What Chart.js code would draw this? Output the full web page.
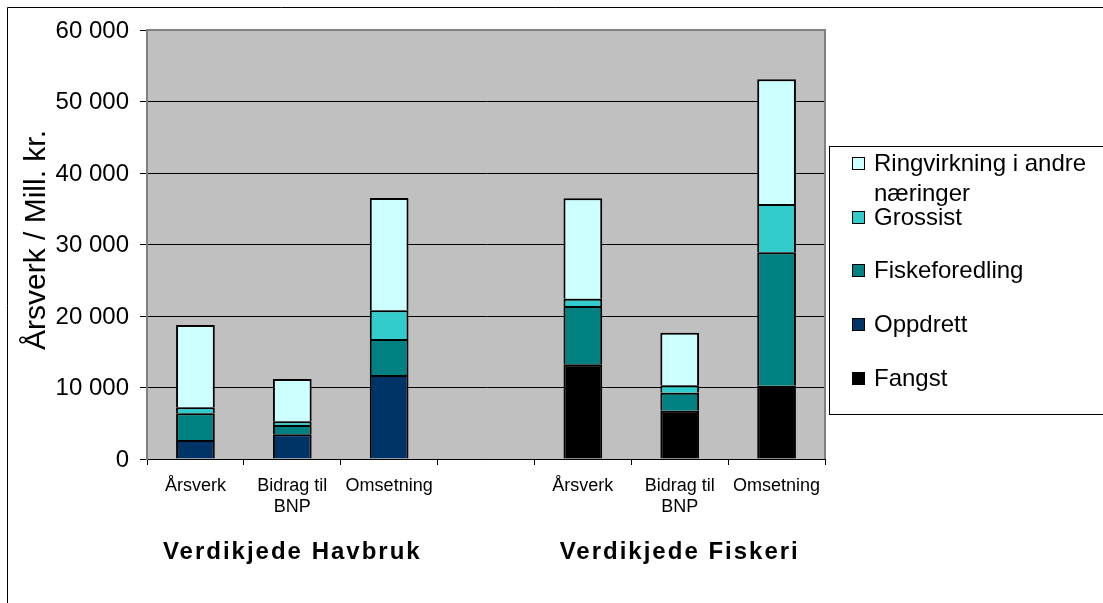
<!DOCTYPE html>
<html>
<head>
<meta charset="utf-8">
<script src="https://cdn.jsdelivr.net/npm/chart.js@4"></script>
<style>
  body { margin: 0; background: #fff; }
  canvas { display: block; }
</style>
</head>
<body>
<canvas id="chart" width="1103" height="603"></canvas>
<script>
// categories (empty slot between the two value chains)
const categories = [['Årsverk'], ['Bidrag til', 'BNP'], ['Omsetning'], [''], ['Årsverk'], ['Bidrag til', 'BNP'], ['Omsetning']];
const groupLabels = ['Verdikjede Havbruk', 'Verdikjede Fiskeri'];
const yTicks = [0, 10000, 20000, 30000, 40000, 50000, 60000];
const yTitle = 'Årsverk / Mill. kr.';

// stacked segments, bottom to top
const fangst         = [0, 0, 0, null, 13250, 6750, 10250];
const oppdrett       = [2650, 3450, 11750, null, 0, 0, 0];
const fiskeforedling = [3750, 1300, 5050, null, 8150, 2500, 18650];
const grossist       = [840, 520, 4020, null, 1020, 1080, 6760];
const ringvirkning   = [11510, 5930, 15700, null, 14040, 7310, 17440];

const seriesNames = ['Fangst', 'Oppdrett', 'Fiskeforedling', 'Grossist', 'Ringvirkning i andre næringer'];
const seriesColors = ['#000000', '#003366', '#008080', '#33CCCC', '#CCFFFF'];
const seriesData = [fangst, oppdrett, fiskeforedling, grossist, ringvirkning];

const FONT = '"Liberation Sans", Arial, sans-serif';
const fmt = v => v === 0 ? '0' : (v / 1000) + ' 000';

// background, plot border, axis texts, group labels, legend
const decor = {
    id: 'decor',
    beforeDraw(chart) {
        const ctx = chart.ctx;
        const a = chart.chartArea;
        ctx.save();
        ctx.fillStyle = '#fff';
        ctx.fillRect(0, 0, chart.width, chart.height);
        ctx.fillStyle = '#C0C0C0';
        ctx.fillRect(a.left, a.top, a.right - a.left, a.bottom - a.top);
        // outer frame
        ctx.strokeStyle = '#000';
        ctx.lineWidth = 1;
        ctx.beginPath();
        ctx.moveTo(7.5, chart.height);
        ctx.lineTo(7.5, 7.5);
        ctx.lineTo(chart.width, 7.5);
        ctx.stroke();
        ctx.restore();
    },
    afterDraw(chart) {
        const ctx = chart.ctx;
        const a = chart.chartArea;
        const x = chart.scales.x;
        const y = chart.scales.y;
        ctx.save();
        // plot border top/right
        ctx.strokeStyle = '#808080';
        ctx.lineWidth = 2;
        ctx.beginPath();
        ctx.moveTo(a.left, a.top);
        ctx.lineTo(a.right, a.top);
        ctx.lineTo(a.right, a.bottom);
        ctx.stroke();

        // y tick labels
        ctx.fillStyle = '#000';
        ctx.font = '24px ' + FONT;
        ctx.textAlign = 'right';
        ctx.textBaseline = 'middle';
        yTicks.forEach(v => ctx.fillText(fmt(v), 129, y.getPixelForValue(v) + 1));

        // y title
        ctx.save();
        ctx.translate(45, 240);
        ctx.rotate(-Math.PI / 2);
        ctx.font = '30px ' + FONT;
        ctx.textAlign = 'center';
        ctx.textBaseline = 'alphabetic';
        ctx.fillText(yTitle, 0, 0);
        ctx.restore();

        // group labels
        ctx.font = 'bold 24px ' + FONT;
        ctx.textAlign = 'center';
        ctx.textBaseline = 'middle';
        ctx.letterSpacing = '2px';
        ctx.fillText(groupLabels[0], x.getPixelForValue(1), 552);
        ctx.fillText(groupLabels[1], x.getPixelForValue(5), 552);
        ctx.letterSpacing = '0px';

        // legend box
        ctx.strokeStyle = '#000';
        ctx.lineWidth = 1;
        ctx.fillStyle = '#fff';
        ctx.fillRect(829.5, 146.5, 280, 268);
        ctx.strokeRect(829.5, 146.5, 280, 268);
        ctx.font = '24px ' + FONT;
        ctx.textAlign = 'left';
        const rows = [
            { i: 4, y: 163, lines: ['Ringvirkning i andre', 'næringer'] },
            { i: 3, y: 217, lines: ['Grossist'] },
            { i: 2, y: 270, lines: ['Fiskeforedling'] },
            { i: 1, y: 324, lines: ['Oppdrett'] },
            { i: 0, y: 378, lines: ['Fangst'] }
        ];
        rows.forEach(r => {
            const ds = chart.data.datasets[r.i];
            ctx.fillStyle = ds.backgroundColor;
            ctx.fillRect(852.5, r.y - 5.5, 12, 12);
            ctx.strokeStyle = '#000';
            ctx.strokeRect(852.5, r.y - 5.5, 12, 12);
            ctx.fillStyle = '#000';
            r.lines.forEach((t, k) => ctx.fillText(t, 874, r.y + 1 + k * 30));
        });
        ctx.restore();
    }
};

const ctx = document.getElementById('chart').getContext('2d');
new Chart(ctx, {
    type: 'bar',
    data: {
        labels: categories,
        datasets: seriesData.map((d, i) => ({
            label: seriesNames[i],
            data: d,
            backgroundColor: seriesColors[i],
            borderColor: '#000',
            borderWidth: 2,
            barPercentage: 0.4,
            categoryPercentage: 1
        }))
    },
    options: {
        responsive: false,
        animation: false,
        layout: { padding: { left: 0, top: 30, right: 278, bottom: 0 } },
        plugins: {
            legend: { display: false },
            tooltip: { enabled: false }
        },
        scales: {
            x: {
                stacked: true,
                afterFit: s => { s.height = 144; },
                grid: { offset: true, drawOnChartArea: false, color: '#000', tickLength: 6 },
                border: { color: '#000', width: 1 },
                ticks: {
                    color: '#000',
                    font: { family: FONT, size: 18, lineHeight: 1.2 },
                    maxRotation: 0,
                    autoSkip: false,
                    padding: 10
                }
            },
            y: {
                stacked: true,
                min: 0,
                max: 60000,
                afterFit: s => { s.width = 147; },
                afterBuildTicks: s => { s.ticks = yTicks.map(v => ({ value: v })); },
                grid: { color: '#000', tickLength: 7, drawTicks: true },
                border: { color: '#808080', width: 2 },
                ticks: { display: false }
            }
        }
    },
    plugins: [decor]
});
</script>
</body>
</html>
